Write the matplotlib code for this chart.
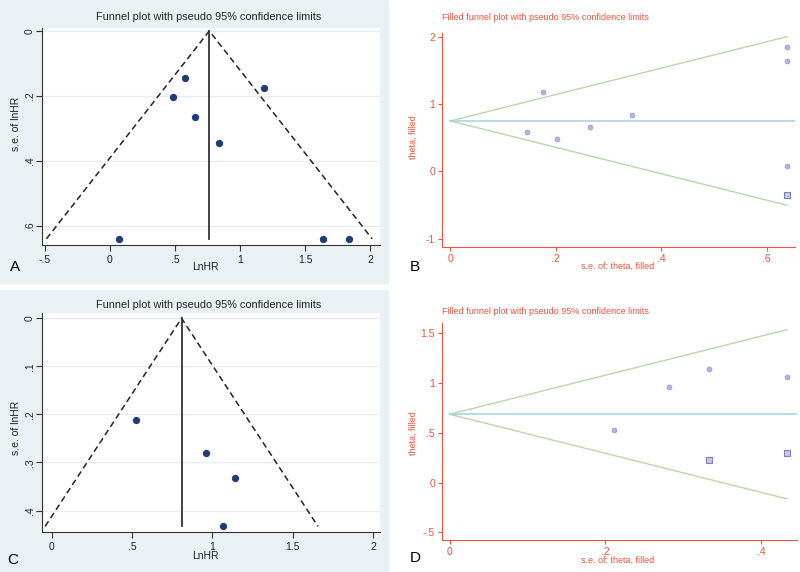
""" FUNNEL PLOTS
    ------------
    Funnel plots (A, C) and trim-and-fill plots (B, D).
"""

import numpy as np
import matplotlib.pyplot as plt
from matplotlib.patches import Rectangle

plt.rcParams['font.family'] = ['Liberation Sans', 'DejaVu Sans']

# -------------------------------------------------------------------------------
# DATA
# -------------------------------------------------------------------------------

# Panel A / B: first outcome
lnhr_a = [0.072, 0.482, 0.579, 0.651, 0.836, 1.182, 1.636, 1.841]
se_a = [0.639, 0.203, 0.146, 0.264, 0.344, 0.176, 0.639, 0.639]
pooled_a = 0.764
filled_theta_b = [-0.351]
filled_se_b = [0.639]
pooled_b = 0.748

# Panel C / D: second outcome
lnhr_c = [0.526, 0.960, 1.142, 1.065]
se_c = [0.211, 0.281, 0.333, 0.433]
pooled_c = 0.808
filled_theta_d = [0.224, 0.301]
filled_se_d = [0.333, 0.433]
pooled_d = 0.686

W, H = 800, 572
BG = '#eaf1f4'
RED = '#f0533a'
NAVY = '#1f3b7a'
PURPLE = '#9a9ad0'


def px_axes(fig, left, top, right, bottom):
    return fig.add_axes([left / W, 1 - bottom / H, (right - left) / W, (bottom - top) / H])


def funnel(ax, x, se, pooled, xlim, ylim, xticks, xlabels, yticks, ylabels):
    se_max = max(se)
    ax.plot([pooled - 1.96 * se_max, pooled, pooled + 1.96 * se_max], [se_max, 0, se_max],
            color='#222222', ls=(0, (4, 2.5)), lw=1.1)
    ax.plot([pooled, pooled], [0, se_max], color='#333333', lw=1.3)
    ax.scatter(x, se, s=18, color=NAVY, zorder=3)
    ax.set_xlim(*xlim)
    ax.set_ylim(*ylim)
    ax.set_xticks(xticks, xlabels)
    ax.set_yticks(yticks, ylabels)
    for t in yticks:
        ax.axhline(t, color='#e4edf1', lw=1, zorder=0)
    ax.tick_params(labelsize=7.5, length=4, width=0.8, color='#333333', labelcolor='#222222')
    ax.tick_params(axis='y', pad=1)
    for lab in ax.get_yticklabels():
        lab.set_rotation(90)
        lab.set_va('center')
    ax.spines['top'].set_visible(False)
    ax.spines['right'].set_visible(False)
    ax.spines['left'].set_color('#333333')
    ax.spines['bottom'].set_color('#333333')
    ax.set_facecolor('white')


def filled(ax, se, theta, fse, ftheta, pooled, xlim, ylim, xticks, xlabels, yticks, ylabels):
    se_max = max(se)
    ax.plot([0, se_max], [pooled, pooled + 1.96 * se_max], color='#b8d8a8', lw=1)
    ax.plot([0, se_max], [pooled, pooled - 1.96 * se_max], color='#b8d8a8', lw=1)
    ax.plot([0, xlim[1]], [pooled, pooled], color='#a9d4e2', lw=1.2)
    ax.scatter(se, theta, s=12, color='#b4b4e0', edgecolors=PURPLE, linewidths=0.6, zorder=3)
    ax.scatter(fse, ftheta, s=22, marker='s', color='#c8c8ec', edgecolors='#8080bb',
               linewidths=0.8, zorder=3)
    ax.set_xlim(*xlim)
    ax.set_ylim(*ylim)
    ax.set_xticks(xticks, xlabels)
    ax.set_yticks(yticks, ylabels)
    ax.tick_params(labelsize=7.5, length=3, width=0.8, pad=2, color=RED, labelcolor=RED)
    ax.spines['top'].set_visible(False)
    ax.spines['right'].set_visible(False)
    ax.spines['left'].set_color(RED)
    ax.spines['bottom'].set_color(RED)


fig = plt.figure(figsize=(W / 100, H / 100), dpi=100)
fig.patch.set_facecolor('white')

# light background for the Stata-style panels
fig.add_artist(Rectangle((0, 1 - 283 / H), 388 / W, 283 / H, transform=fig.transFigure,
                         color=BG, zorder=-10))
fig.add_artist(Rectangle((0, 0), 388 / W, 1 - 290 / H, transform=fig.transFigure,
                         color=BG, zorder=-10))

# Panel A
ax = px_axes(fig, 42, 28, 380, 245)
funnel(ax, lnhr_a, se_a, pooled_a, (-0.523, 2.077), (0.658, -0.009),
       [-0.5, 0, 0.5, 1, 1.5, 2], ['-.5', '0', '.5', '1', '1.5', '2'],
       [0, 0.2, 0.4, 0.6], ['0', '.2', '.4', '.6'])
fig.text(209 / W, 1 - 17 / H, 'Funnel plot with pseudo 95% confidence limits',
         ha='center', va='center', fontsize=7.8, color='#222222')
fig.text(205 / W, 1 - 267 / H, 'LnHR', ha='center', va='center', fontsize=7.5, color='#222222')
fig.text(16 / W, 1 - 124 / H, 's.e. of lnHR', ha='center', va='center', rotation=90,
         fontsize=7.5, color='#222222')

# Panel B
ax = px_axes(fig, 442, 33, 795, 247)
filled(ax, se_a, lnhr_a, filled_se_b, filled_theta_b, pooled_b, (-0.016, 0.654), (-1.125, 2.055),
       [0, 0.2, 0.4, 0.6], ['0', '.2', '.4', '.6'], [-1, 0, 1, 2], ['-1', '0', '1', '2'])
fig.text(442 / W, 1 - 18 / H, 'Filled funnel plot with pseudo 95% confidence limits',
         ha='left', va='center', fontsize=6.5, color=RED)
fig.text(618 / W, 1 - 266 / H, 's.e. of: theta, filled', ha='center', va='center',
         fontsize=6.5, color=RED)
fig.text(413 / W, 1 - 137 / H, 'theta, filled', ha='center', va='center', rotation=90,
         fontsize=6.5, color=RED)

# Panel C
ax = px_axes(fig, 42, 313, 380, 532)
funnel(ax, lnhr_c, se_c, pooled_c, (-0.060, 2.042), (0.4446, -0.011),
       [0, 0.5, 1, 1.5, 2], ['0', '.5', '1', '1.5', '2'],
       [0, 0.1, 0.2, 0.3, 0.4], ['0', '.1', '.2', '.3', '.4'])
fig.text(209 / W, 1 - 305 / H, 'Funnel plot with pseudo 95% confidence limits',
         ha='center', va='center', fontsize=7.8, color='#222222')
fig.text(205 / W, 1 - 556 / H, 'LnHR', ha='center', va='center', fontsize=7.5, color='#222222')
fig.text(16 / W, 1 - 428 / H, 's.e. of lnHR', ha='center', va='center', rotation=90,
         fontsize=7.5, color='#222222')

# Panel D
ax = px_axes(fig, 442, 323, 797, 540)
filled(ax, se_c, lnhr_c, filled_se_d, filled_theta_d, pooled_d, (-0.0099, 0.446), (-0.576, 1.602),
       [0, 0.2, 0.4], ['0', '.2', '.4'], [-0.5, 0, 0.5, 1, 1.5], ['-.5', '0', '.5', '1', '1.5'])
fig.text(442 / W, 1 - 312 / H, 'Filled funnel plot with pseudo 95% confidence limits',
         ha='left', va='center', fontsize=6.5, color=RED)
fig.text(618 / W, 1 - 560 / H, 's.e. of: theta, filled', ha='center', va='center',
         fontsize=6.5, color=RED)
fig.text(413 / W, 1 - 433 / H, 'theta, filled', ha='center', va='center', rotation=90,
         fontsize=6.5, color=RED)

# Panel letters
for lx, ly, letter in [(15, 267, 'A'), (415, 267, 'B'), (13, 560, 'C'), (415, 558, 'D')]:
    fig.text(lx / W, 1 - ly / H, letter, ha='center', va='center', fontsize=11, color='black')

fig.savefig('out.png', dpi=100)
